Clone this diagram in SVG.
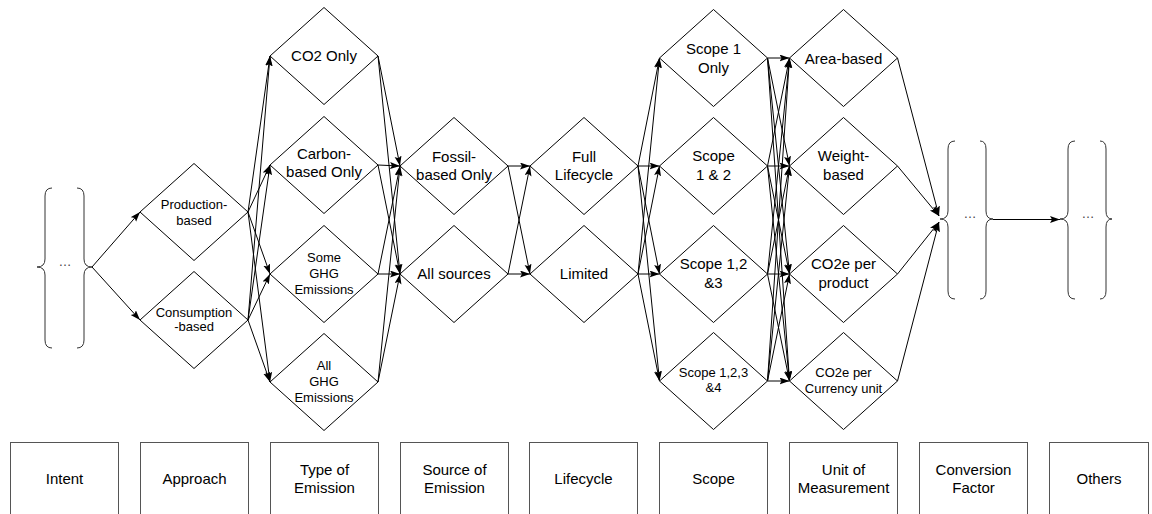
<svg xmlns="http://www.w3.org/2000/svg" width="1152" height="514" viewBox="0 0 1152 514">
<style>
.d{fill:#fff;stroke:#000;stroke-width:1}
.b{fill:#fff;stroke:#555;stroke-width:1}
.br{fill:none;stroke:#333;stroke-width:1}
.t{font-family:"Liberation Sans",Arial,sans-serif;font-size:15px;fill:#000;text-anchor:middle}
.s{font-size:13px}
.dots{font-family:"Liberation Sans",Arial,sans-serif;font-size:13px;fill:#444;text-anchor:middle}
.c line{stroke:#000;stroke-width:1;marker-end:url(#ah)}
</style>
<defs>
<marker id="ah" markerUnits="userSpaceOnUse" markerWidth="11" markerHeight="8" refX="10" refY="3.5" orient="auto">
<path d="M0,0 L10,3.5 L0,7 L2,3.5 z" fill="#000"/>
</marker>
</defs>
<rect width="1152" height="514" fill="#fff"/>

<g id="connectors" class="c">
<line x1="92" y1="267" x2="140" y2="212"/>
<line x1="92" y1="267" x2="140" y2="320"/>
<line x1="248" y1="212" x2="270" y2="56"/>
<line x1="248" y1="212" x2="270" y2="165"/>
<line x1="248" y1="212" x2="270" y2="274"/>
<line x1="248" y1="212" x2="270" y2="382"/>
<line x1="248" y1="320" x2="270" y2="56"/>
<line x1="248" y1="320" x2="270" y2="165"/>
<line x1="248" y1="320" x2="270" y2="274"/>
<line x1="248" y1="320" x2="270" y2="382"/>
<line x1="378" y1="56" x2="400" y2="166"/>
<line x1="378" y1="56" x2="400" y2="274"/>
<line x1="378" y1="165" x2="400" y2="166"/>
<line x1="378" y1="165" x2="400" y2="274"/>
<line x1="378" y1="274" x2="400" y2="166"/>
<line x1="378" y1="274" x2="400" y2="274"/>
<line x1="378" y1="382" x2="400" y2="166"/>
<line x1="378" y1="382" x2="400" y2="274"/>
<line x1="508" y1="166" x2="530" y2="166"/>
<line x1="508" y1="166" x2="530" y2="274"/>
<line x1="508" y1="274" x2="530" y2="166"/>
<line x1="508" y1="274" x2="530" y2="274"/>
<line x1="638" y1="166" x2="659.5" y2="58"/>
<line x1="638" y1="166" x2="659.5" y2="166"/>
<line x1="638" y1="166" x2="659.5" y2="274"/>
<line x1="638" y1="166" x2="659.5" y2="381"/>
<line x1="638" y1="274" x2="659.5" y2="58"/>
<line x1="638" y1="274" x2="659.5" y2="166"/>
<line x1="638" y1="274" x2="659.5" y2="274"/>
<line x1="638" y1="274" x2="659.5" y2="381"/>
<line x1="767.5" y1="58" x2="789.5" y2="58"/>
<line x1="767.5" y1="58" x2="789.5" y2="166"/>
<line x1="767.5" y1="58" x2="789.5" y2="274"/>
<line x1="767.5" y1="58" x2="789.5" y2="381"/>
<line x1="767.5" y1="166" x2="789.5" y2="58"/>
<line x1="767.5" y1="166" x2="789.5" y2="166"/>
<line x1="767.5" y1="166" x2="789.5" y2="274"/>
<line x1="767.5" y1="166" x2="789.5" y2="381"/>
<line x1="767.5" y1="274" x2="789.5" y2="58"/>
<line x1="767.5" y1="274" x2="789.5" y2="166"/>
<line x1="767.5" y1="274" x2="789.5" y2="274"/>
<line x1="767.5" y1="274" x2="789.5" y2="381"/>
<line x1="767.5" y1="381" x2="789.5" y2="58"/>
<line x1="767.5" y1="381" x2="789.5" y2="166"/>
<line x1="767.5" y1="381" x2="789.5" y2="274"/>
<line x1="767.5" y1="381" x2="789.5" y2="381"/>
<line x1="897.5" y1="58" x2="939" y2="216"/>
<line x1="897.5" y1="166" x2="939" y2="216"/>
<line x1="897.5" y1="274" x2="939" y2="222"/>
<line x1="897.5" y1="381" x2="939" y2="222"/>
<line x1="993" y1="219.5" x2="1060" y2="219.5"/>
</g>

<g id="intent">
<path class="br" d="M52,188 Q45,188 45,196 L45,259 Q45,267 37,267 Q45,267 45,275 L45,340 Q45,348 52,348"/>
<path class="br" d="M77,188 Q84,188 84,196 L84,259 Q84,267 92,267 Q84,267 84,275 L84,340 Q84,348 77,348"/>
<text class="dots" x="65" y="266">…</text>
</g>

<g id="production-based">
<polygon class="d" points="140,212 194,163.5 248,212 194,260.5"/>
<text class="t s" x="194" y="208.5">Production-</text>
<text class="t s" x="194" y="224.5">based</text>
</g>
<g id="consumption-based">
<polygon class="d" points="140,320 194,271.5 248,320 194,368.5"/>
<text class="t s" x="194" y="317">Consumption</text>
<text class="t s" x="194" y="331">-based</text>
</g>

<g id="co2-only">
<polygon class="d" points="270,56 324,7.5 378,56 324,104.5"/>
<text class="t" x="324" y="61">CO2 Only</text>
</g>
<g id="carbon-based-only">
<polygon class="d" points="270,165 324,116.5 378,165 324,213.5"/>
<text class="t" x="324" y="159">Carbon-</text>
<text class="t" x="324" y="177">based Only</text>
</g>
<g id="some-ghg">
<polygon class="d" points="270,274 324,225.5 378,274 324,322.5"/>
<text class="t s" x="324" y="261.5">Some</text>
<text class="t s" x="324" y="277.5">GHG</text>
<text class="t s" x="324" y="293.5">Emissions</text>
</g>
<g id="all-ghg">
<polygon class="d" points="270,382 324,333.5 378,382 324,430.5"/>
<text class="t s" x="324" y="369.5">All</text>
<text class="t s" x="324" y="385.5">GHG</text>
<text class="t s" x="324" y="401.5">Emissions</text>
</g>

<g id="fossil-based-only">
<polygon class="d" points="400,166 454,117.5 508,166 454,214.5"/>
<text class="t" x="454" y="162">Fossil-</text>
<text class="t" x="454" y="180">based Only</text>
</g>
<g id="all-sources">
<polygon class="d" points="400,274 454,225.5 508,274 454,322.5"/>
<text class="t" x="454" y="279">All sources</text>
</g>

<g id="full-lifecycle">
<polygon class="d" points="530,166 584,117.5 638,166 584,214.5"/>
<text class="t" x="584" y="162">Full</text>
<text class="t" x="584" y="180">Lifecycle</text>
</g>
<g id="limited">
<polygon class="d" points="530,274 584,225.5 638,274 584,322.5"/>
<text class="t" x="584" y="278.5">Limited</text>
</g>

<g id="scope-1-only">
<polygon class="d" points="659.5,58 713.5,9.5 767.5,58 713.5,106.5"/>
<text class="t" x="713.5" y="54">Scope 1</text>
<text class="t" x="713.5" y="72.5">Only</text>
</g>
<g id="scope-1-2">
<polygon class="d" points="659.5,166 713.5,117.5 767.5,166 713.5,214.5"/>
<text class="t" x="713.5" y="161">Scope</text>
<text class="t" x="713.5" y="180">1 &amp; 2</text>
</g>
<g id="scope-1-2-3">
<polygon class="d" points="659.5,274 713.5,225.5 767.5,274 713.5,322.5"/>
<text class="t" x="713.5" y="269">Scope 1,2</text>
<text class="t" x="713.5" y="287.5">&amp;3</text>
</g>
<g id="scope-1-2-3-4">
<polygon class="d" points="659.5,381 713.5,332.5 767.5,381 713.5,429.5"/>
<text class="t s" x="713.5" y="377">Scope 1,2,3</text>
<text class="t s" x="713.5" y="392">&amp;4</text>
</g>

<g id="area-based">
<polygon class="d" points="789.5,58 843.5,9.5 897.5,58 843.5,106.5"/>
<text class="t" x="843.5" y="63.5">Area-based</text>
</g>
<g id="weight-based">
<polygon class="d" points="789.5,166 843.5,117.5 897.5,166 843.5,214.5"/>
<text class="t" x="843.5" y="161">Weight-</text>
<text class="t" x="843.5" y="180">based</text>
</g>
<g id="co2e-per-product">
<polygon class="d" points="789.5,274 843.5,225.5 897.5,274 843.5,322.5"/>
<text class="t" x="843.5" y="269">CO2e per</text>
<text class="t" x="843.5" y="287.5">product</text>
</g>
<g id="co2e-per-currency">
<polygon class="d" points="789.5,381 843.5,332.5 897.5,381 843.5,429.5"/>
<text class="t s" x="843.5" y="377">CO2e per</text>
<text class="t s" x="843.5" y="392.5">Currency unit</text>
</g>

<g id="conversion-braces">
<path class="br" d="M955,141 Q948,141 948,149 L948,211 Q948,219 940,219 Q948,219 948,227 L948,291 Q948,299 955,299"/>
<path class="br" d="M980,141 Q986,141 986,149 L986,211 Q986,219 993,219 Q986,219 986,227 L986,291 Q986,299 980,299"/>
<text class="dots" x="970" y="218">…</text>
</g>
<g id="others-braces">
<path class="br" d="M1075,141 Q1068,141 1068,149 L1068,211 Q1068,219 1060,219 Q1068,219 1068,227 L1068,291 Q1068,299 1075,299"/>
<path class="br" d="M1100,141 Q1106,141 1106,149 L1106,211 Q1106,219 1112,219 Q1106,219 1106,227 L1106,291 Q1106,299 1100,299"/>
<text class="dots" x="1088" y="218">…</text>
</g>

<g id="box-intent"><rect class="b" x="10.5" y="442.5" width="108" height="80"/><text class="t" x="64.5" y="484">Intent</text></g>
<g id="box-approach"><rect class="b" x="140.5" y="442.5" width="108" height="80"/><text class="t" x="194.5" y="484">Approach</text></g>
<g id="box-type"><rect class="b" x="270.5" y="442.5" width="108" height="80"/><text class="t" x="324.5" y="475">Type of</text><text class="t" x="324.5" y="493">Emission</text></g>
<g id="box-source"><rect class="b" x="400.5" y="442.5" width="108" height="80"/><text class="t" x="454.5" y="475">Source of</text><text class="t" x="454.5" y="493">Emission</text></g>
<g id="box-lifecycle"><rect class="b" x="529.5" y="442.5" width="108" height="80"/><text class="t" x="583.5" y="484">Lifecycle</text></g>
<g id="box-scope"><rect class="b" x="659.5" y="442.5" width="108" height="80"/><text class="t" x="713.5" y="484">Scope</text></g>
<g id="box-unit"><rect class="b" x="789.5" y="442.5" width="108" height="80"/><text class="t" x="843.5" y="475">Unit of</text><text class="t" x="843.5" y="493">Measurement</text></g>
<g id="box-conversion"><rect class="b" x="919.5" y="442.5" width="108" height="80"/><text class="t" x="973.5" y="475">Conversion</text><text class="t" x="973.5" y="493">Factor</text></g>
<g id="box-others"><rect class="b" x="1049.5" y="442.5" width="99" height="80"/><text class="t" x="1099" y="484">Others</text></g>
</svg>
